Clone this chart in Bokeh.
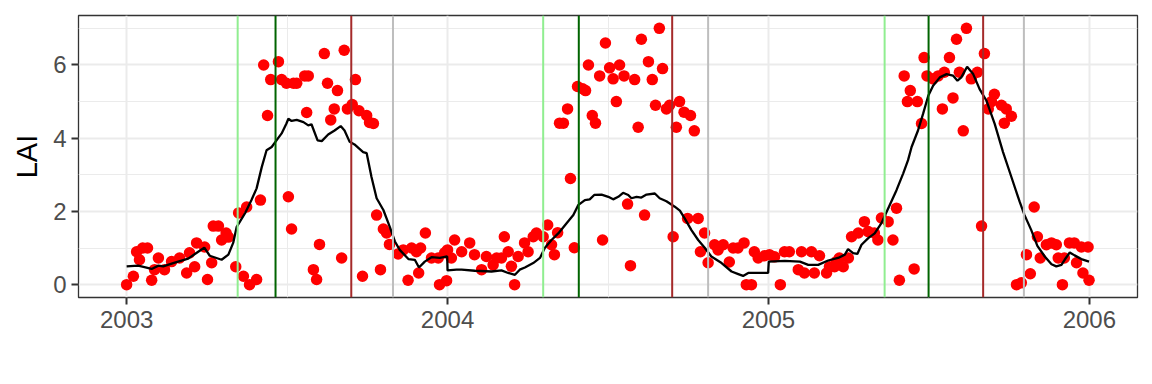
from bokeh.plotting import figure
from bokeh.models import Range1d, FixedTicker, Span
from bokeh.embed import file_html
from bokeh.resources import INLINE

# ---------------- data ----------------
obs_year = [
    2003.000, 2003.021, 2003.031, 2003.040, 2003.050, 2003.065, 2003.078, 2003.087, 2003.099, 2003.118,
    2003.140, 2003.165, 2003.187, 2003.196, 2003.212, 2003.218, 2003.243, 2003.252, 2003.265, 2003.270,
    2003.286, 2003.296, 2003.310, 2003.317, 2003.340, 2003.349, 2003.364, 2003.374, 2003.383, 2003.405,
    2003.417, 2003.427, 2003.439, 2003.449, 2003.473, 2003.483, 2003.498, 2003.504, 2003.514, 2003.520,
    2003.530, 2003.555, 2003.566, 2003.561, 2003.582, 2003.592, 2003.601, 2003.616, 2003.626, 2003.636,
    2003.647, 2003.657, 2003.670, 2003.678, 2003.688, 2003.703, 2003.713, 2003.724, 2003.735, 2003.748,
    2003.757, 2003.769, 2003.779, 2003.791, 2003.800, 2003.810, 2003.819, 2003.846, 2003.862, 2003.877,
    2003.888, 2003.903, 2003.910, 2003.916, 2003.931, 2003.950, 2003.971, 2003.975, 2003.991, 2003.997,
    2004.000, 2004.012, 2004.022, 2004.044, 2004.069, 2004.084, 2004.106, 2004.121, 2004.142, 2004.153,
    2004.168, 2004.177, 2004.189, 2004.199, 2004.209, 2004.220, 2004.240, 2004.251, 2004.267, 2004.277,
    2004.298, 2004.312, 2004.324, 2004.333, 2004.343, 2004.349, 2004.361, 2004.374, 2004.383, 2004.395,
    2004.405, 2004.421, 2004.430, 2004.439, 2004.451, 2004.461, 2004.474, 2004.483, 2004.492, 2004.505,
    2004.516, 2004.526, 2004.536, 2004.550, 2004.561, 2004.570, 2004.583, 2004.594, 2004.604, 2004.614,
    2004.626, 2004.638, 2004.648, 2004.660, 2004.670, 2004.682, 2004.692, 2004.703, 2004.713, 2004.723,
    2004.737, 2004.748, 2004.757, 2004.769, 2004.781, 2004.788, 2004.801, 2004.812, 2004.832, 2004.843,
    2004.859, 2004.878, 2004.890, 2004.905, 2004.924, 2004.931, 2004.947, 2004.956, 2004.968, 2004.988,
    2005.003, 2005.019, 2005.037, 2005.050, 2005.065, 2005.093, 2005.103, 2005.112, 2005.134, 2005.143,
    2005.159, 2005.181, 2005.190, 2005.206, 2005.212, 2005.221, 2005.233, 2005.249, 2005.259, 2005.280,
    2005.299, 2005.311, 2005.330, 2005.341, 2005.352, 2005.373, 2005.388, 2005.399, 2005.408, 2005.423,
    2005.433, 2005.442, 2005.454, 2005.464, 2005.477, 2005.485, 2005.494, 2005.513, 2005.529, 2005.542,
    2005.548, 2005.564, 2005.575, 2005.586, 2005.595, 2005.607, 2005.617, 2005.632, 2005.651, 2005.664,
    2005.673, 2005.685, 2005.695, 2005.704, 2005.726, 2005.735, 2005.741, 2005.757, 2005.773, 2005.788,
    2005.804, 2005.816, 2005.828, 2005.838, 2005.847, 2005.866, 2005.882, 2005.897, 2005.903, 2005.916,
    2005.922, 2005.938, 2005.953, 2005.960, 2005.975, 2005.980, 2005.996, 2005.999,
]
obs_lai = [
    0.00, 0.23, 0.90, 0.68, 1.00, 1.00, 0.12, 0.41, 0.73, 0.41,
    0.63, 0.73, 0.32, 0.87, 0.49, 1.14, 1.03, 0.14, 0.60, 1.60,
    1.60, 1.22, 1.41, 1.30, 0.49, 1.96, 0.23, 2.12, 0.00, 0.14,
    2.31, 6.00, 4.62, 5.60, 6.09, 5.60, 5.50, 2.40, 1.52, 5.50,
    5.50, 5.70, 5.70, 4.70, 0.41, 0.14, 1.10, 6.31, 5.50, 4.50,
    4.80, 5.30, 0.73, 6.40, 4.80, 4.92, 5.60, 4.75, 0.23, 4.62,
    4.43, 4.40, 1.90, 0.41, 1.52, 1.41, 1.10, 0.84, 0.95, 0.12,
    1.00, 0.90, 0.32, 1.00, 1.41, 0.73, 0.73, 0.00, 0.87, 0.11,
    0.95, 0.73, 1.22, 0.90, 1.14, 0.82, 0.41, 0.77, 0.54, 0.73,
    0.73, 1.31, 0.90, 0.50, 0.00, 0.77, 1.14, 0.90, 1.31, 1.41,
    1.31, 1.63, 1.09, 0.82, 1.42, 4.41, 4.41, 4.80, 2.90, 1.01,
    5.41, 5.35, 5.30, 6.00, 4.62, 4.41, 5.70, 1.22, 6.60, 5.92,
    5.62, 5.00, 6.00, 5.70, 2.20, 0.52, 5.60, 4.30, 6.70, 1.90,
    6.09, 5.60, 4.90, 7.00, 5.90, 4.80, 4.90, 1.31, 4.30, 5.00,
    4.71, 1.81, 4.62, 4.20, 1.81, 0.90, 1.41, 0.60, 1.09, 0.95,
    1.09, 0.62, 1.00, 1.00, 1.14, 0.00, 0.00, 0.90, 0.73, 0.79,
    0.82, 0.76, 0.00, 0.90, 0.90, 0.41, 0.90, 0.32, 0.90, 0.32,
    0.79, 0.32, 0.49, 0.49, 0.63, 0.73, 0.49, 0.73, 1.31, 1.41,
    1.72, 1.45, 1.41, 1.22, 1.82, 1.72, 1.22, 2.09, 0.12, 5.70,
    5.00, 5.30, 0.43, 5.00, 4.40, 6.20, 5.70, 5.62, 5.70, 4.80,
    5.80, 6.20, 5.10, 6.70, 5.80, 4.20, 7.00, 5.62, 5.80, 1.60,
    6.31, 4.80, 5.00, 5.20, 4.90, 4.41, 4.80, 4.60, 0.00, 0.05,
    0.82, 0.30, 2.12, 1.31, 0.73, 1.09, 1.14, 1.09, 0.73, 0.00,
    0.73, 1.14, 1.14, 0.60, 1.03, 0.32, 1.03, 0.12,
]

fit_year = [
    2003.000, 2003.036, 2003.078, 2003.099, 2003.114, 2003.150, 2003.192, 2003.223, 2003.242, 2003.259,
    2003.296, 2003.317, 2003.332, 2003.343, 2003.369, 2003.389, 2003.405, 2003.421, 2003.436, 2003.452,
    2003.467, 2003.483, 2003.498, 2003.504, 2003.514, 2003.530, 2003.551, 2003.566, 2003.576, 2003.595,
    2003.608, 2003.628, 2003.648, 2003.667, 2003.679, 2003.695, 2003.710, 2003.737, 2003.748, 2003.763,
    2003.779, 2003.800, 2003.820, 2003.836, 2003.851, 2003.878, 2003.898, 2003.911, 2003.929, 2003.950,
    2003.976, 2003.999,
    2004.000, 2004.028, 2004.044, 2004.085, 2004.137, 2004.168, 2004.189, 2004.210, 2004.225, 2004.241,
    2004.267, 2004.288, 2004.303, 2004.324, 2004.345, 2004.371, 2004.392, 2004.407, 2004.428, 2004.443,
    2004.457, 2004.480, 2004.501, 2004.516, 2004.532, 2004.547, 2004.563, 2004.573, 2004.589, 2004.604,
    2004.620, 2004.646, 2004.661, 2004.682, 2004.708, 2004.724, 2004.739, 2004.760, 2004.781, 2004.802,
    2004.822, 2004.854, 2004.885, 2004.906, 2004.921, 2004.937, 2004.968, 2004.999,
    2005.001, 2005.051, 2005.098, 2005.124, 2005.155, 2005.186, 2005.217, 2005.238, 2005.248, 2005.264,
    2005.277, 2005.290, 2005.311, 2005.331, 2005.352, 2005.373, 2005.399, 2005.420, 2005.435, 2005.446,
    2005.466, 2005.482, 2005.498, 2005.513, 2005.534, 2005.555, 2005.575, 2005.589, 2005.601, 2005.619,
    2005.638, 2005.658, 2005.679, 2005.705, 2005.731, 2005.757, 2005.783, 2005.798, 2005.819, 2005.838,
    2005.861, 2005.882, 2005.897, 2005.913, 2005.923, 2005.939, 2005.954, 2005.975, 2005.999,
]
fit_lai = [
    0.50, 0.52, 0.43, 0.52, 0.50, 0.60, 0.71, 0.90, 1.01, 0.79,
    0.68, 0.82, 1.14, 1.58, 1.95, 2.31, 2.63, 3.21, 3.67, 3.76,
    3.94, 4.13, 4.40, 4.53, 4.47, 4.50, 4.44, 4.35, 4.38, 3.94,
    3.92, 4.10, 4.21, 4.33, 4.21, 3.90, 3.83, 3.62, 3.59, 2.94,
    2.36, 2.04, 1.58, 1.18, 0.95, 0.70, 0.68, 0.47, 0.63, 0.75,
    0.73, 0.77,
    0.39, 0.41, 0.41, 0.38, 0.36, 0.39, 0.32, 0.27, 0.41, 0.47,
    0.59, 0.73, 1.00, 1.22, 1.40, 1.68, 1.90, 2.17, 2.31, 2.33,
    2.45, 2.46, 2.40, 2.33, 2.40, 2.51, 2.45, 2.36, 2.40, 2.38,
    2.46, 2.49, 2.36, 2.28, 2.13, 2.02, 1.81, 1.49, 1.22, 1.00,
    0.77, 0.59, 0.36, 0.29, 0.24, 0.32, 0.32, 0.32,
    0.63, 0.65, 0.63, 0.54, 0.54, 0.66, 0.73, 0.82, 0.97, 0.86,
    0.84, 1.09, 1.27, 1.40, 1.68, 2.08, 2.58, 3.04, 3.40, 3.76,
    4.21, 4.67, 5.16, 5.43, 5.66, 5.75, 5.71, 5.57, 5.66, 5.95,
    5.75, 5.34, 5.03, 4.39, 3.62, 2.94, 2.26, 1.90, 1.49, 1.06,
    0.77, 0.56, 0.50, 0.54, 0.68, 0.88, 0.80, 0.70, 0.63,
]

# phenology dates (decimal year) per season
sos_year = [2003.346, 2004.298, 2005.362]   # light green
pos_year = [2003.464, 2004.409, 2005.499]   # dark green
eos_year = [2003.700, 2004.700, 2005.669]   # brown
dor_year = [2003.830, 2004.812, 2005.796]   # grey

x_ticks = [2003, 2004, 2005, 2006]
x_minor = [2003.5, 2004.5, 2005.5]
y_ticks = [0, 2, 4, 6]
y_minor = [1, 3, 5, 7]

# ---------------- figure ----------------
FONT = "Liberation Sans"
p = figure(width=1140, height=368, output_backend="svg", toolbar_location=None,
           x_range=Range1d(2002.85, 2006.15), y_range=Range1d(-0.35, 7.35),
           min_border_left=78, min_border_right=3, min_border_top=15, min_border_bottom=71)

p.background_fill_color = "white"
p.border_fill_color = "white"
p.outline_line_color = "#333333"
p.outline_line_width = 1.3

p.xaxis.ticker = FixedTicker(ticks=x_ticks, minor_ticks=x_minor)
p.yaxis.ticker = FixedTicker(ticks=y_ticks, minor_ticks=y_minor)

for g in (p.xgrid, p.ygrid):
    g.grid_line_color = "#EBEBEB"
    g.grid_line_width = 2
    g.minor_grid_line_color = "#EBEBEB"
    g.minor_grid_line_width = 1

for ax in (p.xaxis, p.yaxis):
    ax.axis_line_color = None
    ax.major_tick_line_color = "#333333"
    ax.major_tick_line_width = 2
    ax.major_tick_out = 7
    ax.major_tick_in = 0
    ax.minor_tick_line_color = None
    ax.major_label_text_font = FONT
    ax.major_label_text_font_size = "24px"
    ax.major_label_text_color = "#4D4D4D"

p.xaxis.major_label_standoff = 6
p.yaxis.major_label_standoff = 5
p.yaxis.axis_label = "LAI"
p.yaxis.axis_label_text_font = FONT
p.yaxis.axis_label_text_font_size = "29px"
p.yaxis.axis_label_text_font_style = "normal"
p.yaxis.axis_label_text_color = "black"
p.yaxis.axis_label_standoff = 7

p.scatter(obs_year, obs_lai, size=11.5, color="#FF0000", line_color=None)
p.line(fit_year, fit_lai, line_color="black", line_width=2.3)

for xs, col in ((sos_year, "#90EE90"), (pos_year, "#006400"),
                (eos_year, "#A52A2A"), (dor_year, "#BEBEBE")):
    for xv in xs:
        p.add_layout(Span(location=xv, dimension="height", line_color=col, line_width=2))

open("out.html", "w").write(file_html(p, INLINE))
